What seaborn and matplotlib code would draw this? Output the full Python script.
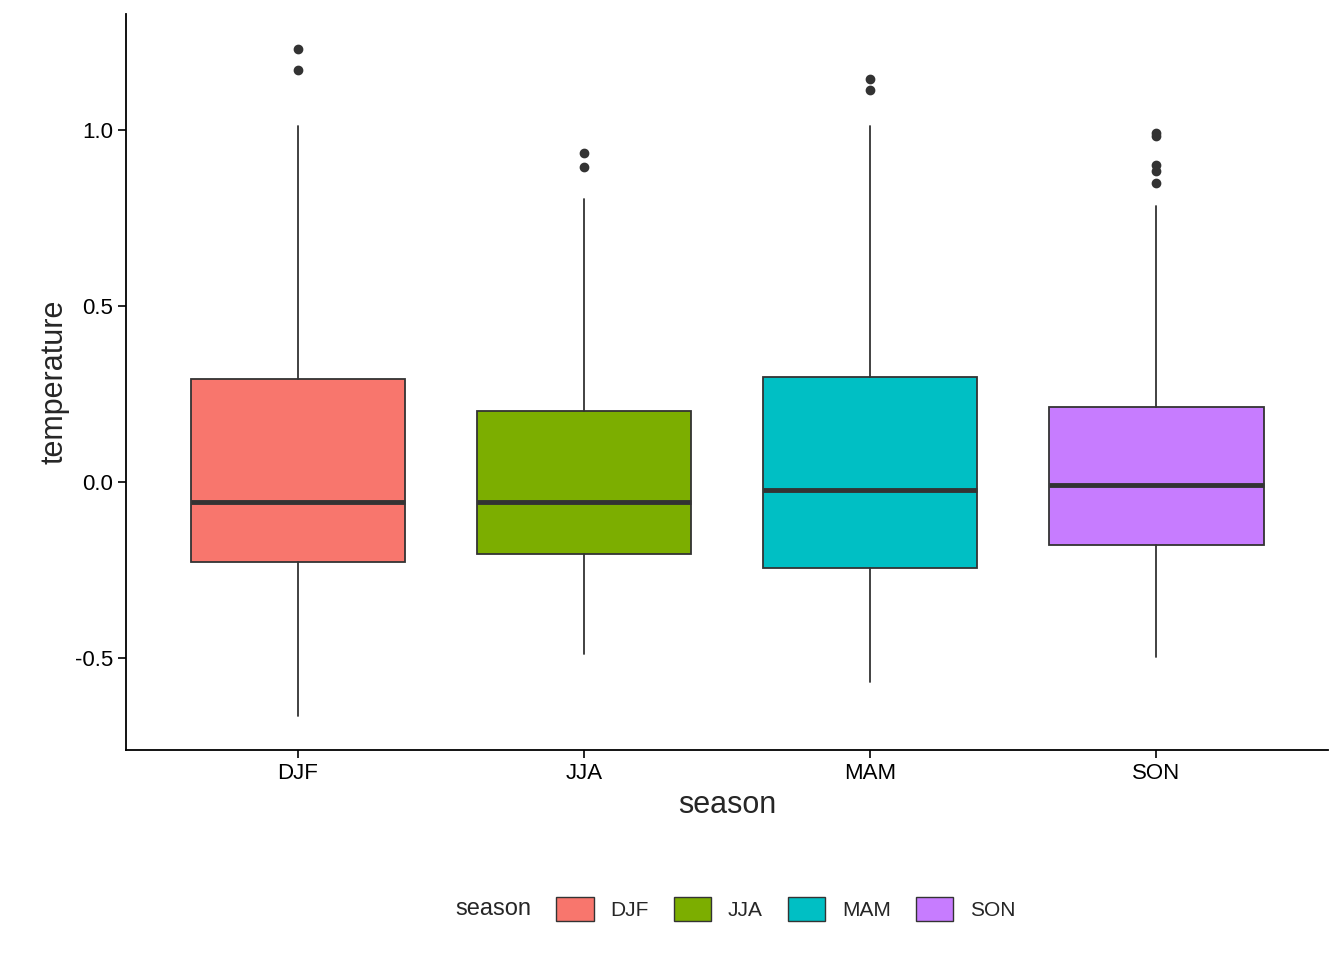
import matplotlib
matplotlib.use("Agg")
import matplotlib.pyplot as plt
from matplotlib.patches import Patch
import seaborn as sns

seasons = ['DJF', 'JJA', 'MAM', 'SON']
colors = ['#F8766D', '#7CAE00', '#00BFC4', '#C77CFF']
q1 = [-0.227, -0.205, -0.244, -0.179]
med = [-0.057, -0.057, -0.023, -0.009]
q3 = [0.293, 0.202, 0.298, 0.213]
whislo = [-0.665, -0.489, -0.568, -0.497]
whishi = [1.014, 0.804, 1.014, 0.784]
fliers = [[1.233, 1.173], [0.935, 0.895], [1.145, 1.114], [0.994, 0.983, 0.903, 0.884, 0.852]]

sns.set_style("ticks")
plt.rcParams['font.family'] = ['Liberation Sans', 'DejaVu Sans']

fig = plt.figure(figsize=(13.44, 9.6), dpi=100)
ax = fig.add_axes([0.094, 0.219, 0.894, 0.766])

stats = []
for i, s in enumerate(seasons):
    stats.append(dict(label=s, q1=q1[i], med=med[i], q3=q3[i],
                      whislo=whislo[i], whishi=whishi[i], fliers=fliers[i]))

bp = ax.bxp(stats, positions=range(4), widths=0.75, patch_artist=True, showcaps=False,
            boxprops=dict(edgecolor='#333333', linewidth=1.3),
            medianprops=dict(color='#333333', linewidth=3.5),
            whiskerprops=dict(color='#333333', linewidth=1.3),
            flierprops=dict(marker='o', markerfacecolor='#333333', markeredgecolor='#333333', markersize=6))
for patch, c in zip(bp['boxes'], colors):
    patch.set_facecolor(c)

ax.set_xlim(-0.6, 3.6)
ax.set_ylim(-0.761, 1.330)
ax.set_yticks([-0.5, 0.0, 0.5, 1.0])
ax.set_yticklabels(['-0.5', '0.0', '0.5', '1.0'])
ax.set_xticks(range(4))
ax.set_xticklabels(seasons)
ax.tick_params(labelsize=16, colors='black', length=6, width=1.2)
for sp in ax.spines.values():
    sp.set_linewidth(1.3)
    sp.set_color('black')
sns.despine(ax=ax)
ax.set_xlabel('season', fontsize=22)
ax.set_ylabel('temperature', fontsize=22)

handles = [Patch(facecolor=c, edgecolor='#333333') for c in colors]
fig.text(0.395, 0.053, 'season', fontsize=17, va='center', ha='right')
fig.legend(handles, seasons, loc='center left', bbox_to_anchor=(0.4, 0.053), ncol=4,
           frameon=False, fontsize=15, handlelength=1.8, handleheight=1.4, columnspacing=1.2)

fig.savefig('out.png', dpi=100)
